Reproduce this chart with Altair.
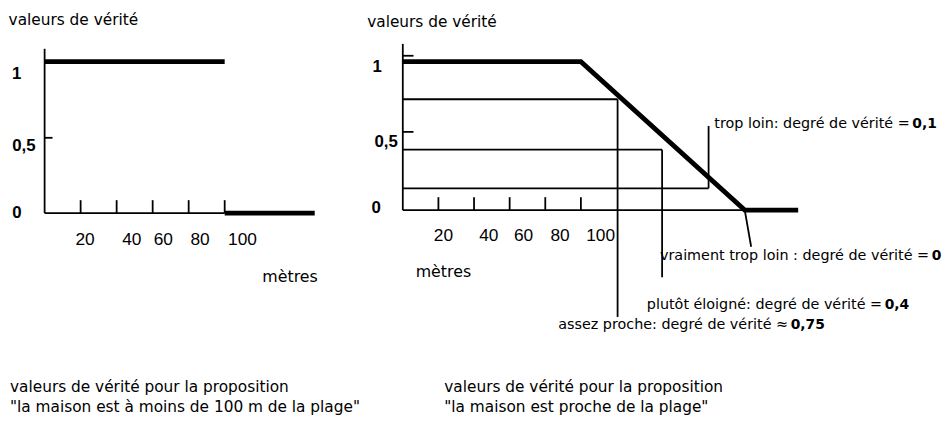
import altair as alt
import pandas as pd

FONT = "DejaVu Sans"
NUMFONT = "Liberation Sans"

# ---------------- Left panel: crisp set (0/1) ----------------
L_seg_x1 = [0, 100]          # thick truth-value segments
L_seg_x2 = [100, 150]
L_seg_v = [1, 0]
L_ticks = [20, 40, 60, 80, 100]
L_tick_labels = ["20", "40", "60", "80", "100"]
L_tick_label_x = [22.5, 48.4, 65.9, 86.3, 109.9]
L_y_labels = ["1", "0,5", "0"]
L_y_label_x = [-15.5, -11.5, -15.4]
L_y_label_v = [0.92, 0.444, 0.0]

# ---------------- Right panel: fuzzy set ----------------
R_curve_x = [0, 100, 192, 222]
R_curve_v = [1, 1, 0, 0]
R_ticks = [20, 40, 60, 80, 100]
R_tick_labels = ["20", "40", "60", "80", "100"]
R_tick_label_x = [22.8, 48.3, 67.8, 88.3, 111.1]
R_y_labels = ["1", "0,5", "0"]
R_y_label_x = [-14.4, -9.4, -15.0]
R_y_label_v = [0.967, 0.46, 0.013]

# degree guides: distance (m) where read, truth level drawn
deg_x = [120.6, 145.6, 171.7]
deg_v = [0.747, 0.407, 0.147]
deg_vert_top = [0.747, 0.407, 0.567]
deg_vert_bottom = [-0.72, -0.453, 0.147]
zero_lead_x = [192, 195.6]
zero_lead_v = [0, -0.247]

deg_text = ["trop loin: degré de vérité =",
            "vraiment trop loin : degré de vérité =",
            "plutôt éloigné: degré de vérité =",
            "assez proche: degré de vérité ≈"]
deg_value = ["0,1", "0", "0,4", "0,75"]
deg_value_x = [286.1, 297.0, 270.6, 217.8]
deg_text_v = [0.58, -0.307, -0.64, -0.773]

TITLE = "valeurs de vérité"
L_caption = ["valeurs de vérité pour la proposition",
             "\"la maison est à moins de 100 m de la plage\""]
R_caption = ["valeurs de vérité pour la proposition",
             "\"la maison est proche de la plage\""]

LW, RW, H = 347, 587, 414
LX = alt.Scale(domain=[-20.33, 170.33], nice=False, zero=False)
LY = alt.Scale(domain=[-1.366, 1.34], nice=False, zero=False)
RX = alt.Scale(domain=[-23.9, 302.2], nice=False, zero=False)
RY = alt.Scale(domain=[-1.413, 1.347], nice=False, zero=False)


def rules(df, xs, ys, width, color="black"):
    return alt.Chart(df).mark_rule(color=color, strokeWidth=width, strokeCap="butt").encode(
        x=alt.X("x1:Q", scale=xs, axis=None),
        x2="x2:Q",
        y=alt.Y("v1:Q", scale=ys, axis=None),
        y2="v2:Q",
    )


def texts(df, xs, ys, size, align="left", weight="normal", font=FONT):
    return alt.Chart(df).mark_text(font=font, fontSize=size, align=align,
                                   baseline="middle", fontWeight=weight,
                                   color="black").encode(
        x=alt.X("x:Q", scale=xs, axis=None),
        y=alt.Y("v:Q", scale=ys, axis=None),
        text="t:N",
    )


# ---------- left panel layers ----------
L_axes = pd.DataFrame({
    "x1": [0, 0, 0] + L_ticks,
    "x2": [0, 100, 4.4] + L_ticks,
    "v1": [0, 0, 0.497] + [0] * len(L_ticks),
    "v2": [1.085, 0, 0.497] + [0.085] * len(L_ticks),
})
L_thick = pd.DataFrame({"x1": L_seg_x1, "x2": L_seg_x2, "v1": L_seg_v, "v2": L_seg_v})
L_txt_ticks = pd.DataFrame({"x": L_tick_label_x, "v": [-0.176] * 5, "t": L_tick_labels})
L_txt_y = pd.DataFrame({"x": L_y_label_x, "v": L_y_label_v, "t": L_y_labels})
L_txt_misc = pd.DataFrame({"x": [-20.0, -19.2, -19.2],
                           "v": [1.275, -1.15, -1.281],
                           "t": [TITLE] + L_caption})
L_txt_unit = pd.DataFrame({"x": [136.3], "v": [-0.425], "t": ["mètres"]})

left = alt.layer(
    rules(L_axes, LX, LY, 1.8),
    rules(L_thick, LX, LY, 4.8),
    texts(L_txt_ticks, LX, LY, 17.5, align="center", font=NUMFONT),
    texts(L_txt_y, LX, LY, 17, align="center", weight="bold", font=NUMFONT),
    texts(L_txt_misc, LX, LY, 15.5),
    texts(L_txt_unit, LX, LY, 16, align="center"),
).properties(width=LW, height=H)

# ---------- right panel layers ----------
R_axes = pd.DataFrame({
    "x1": [0, 0, 0, 0] + R_ticks,
    "x2": [0, 192, 6, 6] + R_ticks,
    "v1": [0, 0, 0.527, 1.04] + [0] * len(R_ticks),
    "v2": [1.12, 0, 0.527, 1.04] + [0.087] * len(R_ticks),
})
R_guides = pd.DataFrame({
    "x1": [0] * 3 + deg_x + [zero_lead_x[0]],
    "x2": deg_x + deg_x + [zero_lead_x[1]],
    "v1": deg_v + deg_vert_top + [zero_lead_v[0]],
    "v2": deg_v + deg_vert_bottom + [zero_lead_v[1]],
})
R_curve = pd.DataFrame({"x": R_curve_x, "v": R_curve_v, "i": list(range(len(R_curve_x)))})
R_txt_ticks = pd.DataFrame({"x": R_tick_label_x, "v": [-0.173] * 5, "t": R_tick_labels})
R_txt_y = pd.DataFrame({"x": R_y_label_x, "v": R_y_label_v, "t": R_y_labels})
R_txt_misc = pd.DataFrame({"x": [-20.0, 23.3, 23.3],
                           "v": [1.267, -1.193, -1.327],
                           "t": [TITLE] + R_caption})
R_txt_unit = pd.DataFrame({"x": [22.8], "v": [-0.42], "t": ["mètres"]})
R_deg_main = pd.DataFrame({"x": [x - 1.5 for x in deg_value_x], "v": deg_text_v, "t": deg_text})
R_deg_val = pd.DataFrame({"x": deg_value_x, "v": deg_text_v, "t": deg_value})

curve = alt.Chart(R_curve).mark_line(color="black", strokeWidth=4.8, strokeJoin="miter").encode(
    x=alt.X("x:Q", scale=RX, axis=None),
    y=alt.Y("v:Q", scale=RY, axis=None),
    order="i:Q",
)

right = alt.layer(
    rules(R_axes, RX, RY, 1.8),
    rules(R_guides, RX, RY, 1.8),
    curve,
    texts(R_txt_ticks, RX, RY, 17.5, align="center", font=NUMFONT),
    texts(R_txt_y, RX, RY, 17, align="center", weight="bold", font=NUMFONT),
    texts(R_txt_misc, RX, RY, 15.5),
    texts(R_txt_unit, RX, RY, 16, align="center"),
    texts(R_deg_main, RX, RY, 14.5, align="right"),
    texts(R_deg_val, RX, RY, 14, align="left", weight="bold", font=FONT),
).properties(width=RW, height=H)

chart = alt.hconcat(left, right, spacing=0).properties(padding=0).configure_view(stroke=None)

chart.save("out.html", embed_options={"renderer": "svg", "actions": False})
